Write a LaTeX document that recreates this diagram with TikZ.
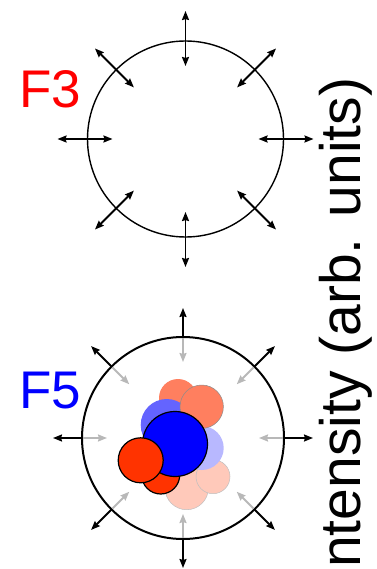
\documentclass[tikz,border=0pt]{standalone}
\usepackage{fontspec}
\setmainfont{Liberation Sans}
\usetikzlibrary{arrows.meta,calc}

\definecolor{salmon}{HTML}{FF7F5F}
\definecolor{hotred}{HTML}{FF3300}
\definecolor{paleblue}{HTML}{6464FF}
\definecolor{faintblue}{HTML}{B8B8FF}
\definecolor{palepink}{HTML}{FFC9BA}
\definecolor{arrowgray}{HTML}{B8B8B8}

\tikzset{
  tipshape/.tip={Stealth[length=9pt,width=7pt,inset=1pt]},
  flow/.style={line width=1.8pt, black},
  inflow/.style={line width=1.8pt, arrowgray},
  ring/.style={draw=black, fill=none},
  label/.style={inner sep=0pt, anchor=base west, font=\fontsize{53}{60}\selectfont},
  ball/.style={draw=black, line width=1.2pt},
  softball/.style={draw=black!25, line width=0.5pt},
}

\begin{document}
\begin{tikzpicture}[x=1pt,y=-1pt]
  \useasboundingbox (0,0) rectangle (376,569);

  % ---------- upper panel: oscillating sphere ----------
  \coordinate (c3) at (185.5,139);
  \draw[ring, line width=1.4pt] (c3) circle[radius=98pt];
  \foreach \a in {0,45,...,315} {
    \draw[flow, tipshape-tipshape]
      ($(c3)+(\a:73pt)$) -- ($(c3)+(\a:128pt)$);
  }
  \node[label, text=red] (f3) at (19,108) {F3};

  % ---------- lower panel: sphere with blob ----------
  \coordinate (c5) at (183,438);
  \draw[ring, line width=2pt] (c5) circle[radius=101pt];
  \foreach \a in {0,45,...,315} {
    \draw[flow, -tipshape] ($(c5)+(\a:101pt)$) -- ($(c5)+(\a:130pt)$);
    \draw[inflow, -tipshape] ($(c5)+(\a:100pt)$) -- ($(c5)+(\a:76pt)$);
  }
  \node[label, text=blue] (f5) at (19,408) {F5};

  % cluster of spheres, back to front
  \fill[palepink] (186.7,488) circle[radius=21.7pt];
  \draw[softball] (186.7,488) circle[radius=21.7pt];
  \fill[palepink] (213,476.7) circle[radius=17pt];
  \draw[softball] (213,476.7) circle[radius=17pt];
  \fill[faintblue] (201.7,448) circle[radius=22pt];
  \fill[salmon] (178,398) circle[radius=19pt];
  \fill[paleblue] (166.7,425) circle[radius=26pt];
  \fill[salmon] (201.7,406.7) circle[radius=21.7pt];
  \draw[softball, draw=black!45] (201.7,406.7) circle[radius=21.7pt];
  \filldraw[ball, fill=hotred] (160.7,475) circle[radius=19pt];
  \filldraw[ball, fill=blue] (175,444) circle[radius=32.5pt];
  \filldraw[ball, fill=hotred] (140.7,460.3) circle[radius=22.5pt];

  % ---------- axis title ----------
  \node[rotate=90, anchor=base west, inner sep=0pt,
        font=\fontsize{57}{60}\selectfont] (ylab) at (360,568)
        {ntensity (arb. units)};
\end{tikzpicture}
\end{document}
